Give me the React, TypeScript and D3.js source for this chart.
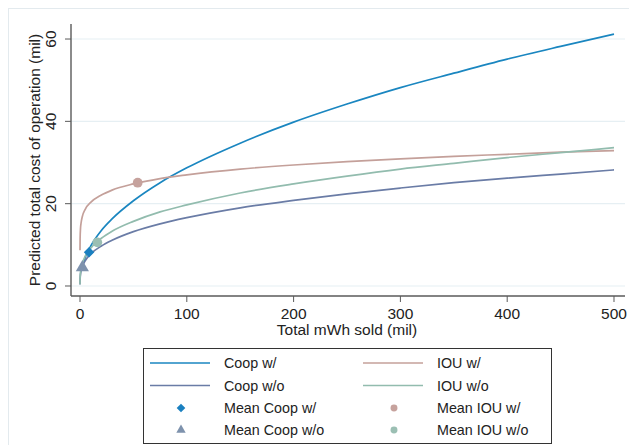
import React from 'react';
import * as d3 from 'd3';

// predicted cost curves at these mWh values
const xGrid = [0.001, 0.01, 0.1, 0.5, 1, 2, 5, 10, 20, 30, 50, 75, 100, 150, 200, 250, 300, 350, 400, 450, 500];
const coopWith = [null, null, null, null, null, 4.6, 7.0, 9.7, 13.5, 16.3, 20.7, 25.1, 28.7, 34.7, 39.8, 44.2, 48.2, 51.7, 55.1, 58.2, 61.2];
const coopWithout = [0.37, 0.79, 1.7, 2.9, 3.6, 4.6, 6.2, 7.8, 9.7, 11.1, 13.2, 15.1, 16.6, 19.0, 20.8, 22.4, 23.8, 25.1, 26.2, 27.2, 28.2];
const iouWith = [null, 8.7, 11.5, 14.1, 15.3, 16.7, 18.7, 20.3, 22.1, 23.3, 24.8, 26.1, 27.0, 28.4, 29.4, 30.2, 30.9, 31.5, 32.0, 32.5, 32.9];
const iouWithout = [0.44, 0.95, 2.0, 3.4, 4.3, 5.4, 7.3, 9.2, 11.6, 13.3, 15.7, 18.0, 19.7, 22.6, 24.8, 26.7, 28.4, 29.8, 31.2, 32.4, 33.6];

const seriesNames = ['Coop w/', 'Coop w/o', 'IOU w/', 'IOU w/o'];
const meanNames = ['Mean Coop w/', 'Mean Coop w/o', 'Mean IOU w/', 'Mean IOU w/o'];
const meanX = [8.5, 2.2, 54, 16.2];
const meanY = [8.2, 4.5, 25.1, 10.6];

const xTicks = [0, 100, 200, 300, 400, 500];
const yTicks = [0, 20, 40, 60];

const lineColors = ['#1a86c0', '#6a7ca6', '#c4a09a', '#92bcae'];
const markerColors = ['#1a80c0', '#7e92ad', '#c6a29d', '#9bbfb3'];
const markerShapes = [d3.symbolDiamond2, d3.symbolTriangle, d3.symbolCircle, d3.symbolCircle];

const font = '"Liberation Sans", Arial, sans-serif';

export default function App() {
  const x = d3.scaleLinear().domain([-8.43, 510.3]).range([71, 625]);
  const y = d3.scaleLinear().domain([-2.43, 63.65]).range([296, 24]);

  const allSeries = [coopWith, coopWithout, iouWith, iouWithout];

  const line = d3.line<[number, number | null]>()
    .defined(d => d[1] != null)
    .x(d => x(d[0]))
    .y(d => y(d[1] as number))
    .curve(d3.curveMonotoneX);

  const sym = (i: number, size: number) => d3.symbol().type(markerShapes[i]).size(size)() as string;

  // legend layout
  const lgX = 143, lgY = 348, lgW = 408, lgH = 95;
  const rowY = [363, 385.5, 408, 430];
  const legendItems = [
    { col: 0, row: 0, kind: 'line', i: 0, label: seriesNames[0] },
    { col: 1, row: 0, kind: 'line', i: 2, label: seriesNames[2] },
    { col: 0, row: 1, kind: 'line', i: 1, label: seriesNames[1] },
    { col: 1, row: 1, kind: 'line', i: 3, label: seriesNames[3] },
    { col: 0, row: 2, kind: 'mark', i: 0, label: meanNames[0] },
    { col: 1, row: 2, kind: 'mark', i: 2, label: meanNames[2] },
    { col: 0, row: 3, kind: 'mark', i: 1, label: meanNames[1] },
    { col: 1, row: 3, kind: 'mark', i: 3, label: meanNames[3] },
  ];
  const colKeyX = [150, 363];
  const colTextX = [224, 437];

  return (
    <svg width={629} height={445} style={{ position: 'absolute', left: 0, top: 0, background: '#fff' }} fontFamily={font}>
      <rect x={8.5} y={8.5} width={640} height={500} fill="none" stroke="#e3eaee" strokeWidth={1} />

      {/* gridlines */}
      {yTicks.map(t => (
        <line key={'g' + t} x1={71} x2={625} y1={y(t)} y2={y(t)} stroke="#e6eff3" strokeWidth={1.2} />
      ))}

      {/* curves */}
      {allSeries.map((s, i) => (
        <path key={'s' + i}
          d={line(xGrid.map((v, j) => [v, s[j]] as [number, number | null])) as string}
          fill="none" stroke={lineColors[i]} strokeWidth={1.7} />
      ))}

      {/* means */}
      {meanX.map((mx, i) => (
        <path key={'m' + i} d={sym(i, i === 0 ? 70 : 75)} transform={`translate(${x(mx)},${y(meanY[i])})`} fill={markerColors[i]} />
      ))}

      {/* axes */}
      <line x1={71} x2={71} y1={24} y2={296} stroke="#5a5a5a" strokeWidth={1.4} />
      <line x1={71} x2={625} y1={296} y2={296} stroke="#5a5a5a" strokeWidth={1.4} />
      {yTicks.map(t => (
        <g key={'yt' + t}>
          <line x1={65} x2={71} y1={y(t)} y2={y(t)} stroke="#5a5a5a" strokeWidth={1} />
          <text transform={`translate(55.5,${y(t)}) rotate(-90)`} textAnchor="middle" fontSize={15.5} fill="#222">{t}</text>
        </g>
      ))}
      {xTicks.map(t => (
        <g key={'xt' + t}>
          <line x1={x(t)} x2={x(t)} y1={296} y2={302} stroke="#5a5a5a" strokeWidth={1} />
          <text x={x(t)} y={318.5} textAnchor="middle" fontSize={15.5} fill="#222">{t}</text>
        </g>
      ))}
      <text x={347} y={334.5} textAnchor="middle" fontSize={15.5} fill="#222">Total mWh sold (mil)</text>
      <text transform="translate(40,160) rotate(-90)" textAnchor="middle" fontSize={15.5} fill="#222">Predicted total cost of operation (mil)</text>

      {/* legend */}
      <rect x={lgX + 0.5} y={lgY + 0.5} width={lgW} height={lgH} fill="#fff" stroke="#333" strokeWidth={1} />
      {legendItems.map((it, k) => {
        const cy = rowY[it.row];
        const kx = colKeyX[it.col];
        return (
          <g key={'l' + k}>
            {it.kind === 'line'
              ? <line x1={kx} x2={kx + 60} y1={cy} y2={cy} stroke={lineColors[it.i]} strokeWidth={1.7} />
              : <path d={sym(it.i, it.i === 0 ? 48 : 38)} transform={`translate(${kx + 31},${cy})`} fill={markerColors[it.i]} />}
            <text x={colTextX[it.col]} y={cy + 5.2} fontSize={14.3} fill="#222">{it.label}</text>
          </g>
        );
      })}
    </svg>
  );
}
